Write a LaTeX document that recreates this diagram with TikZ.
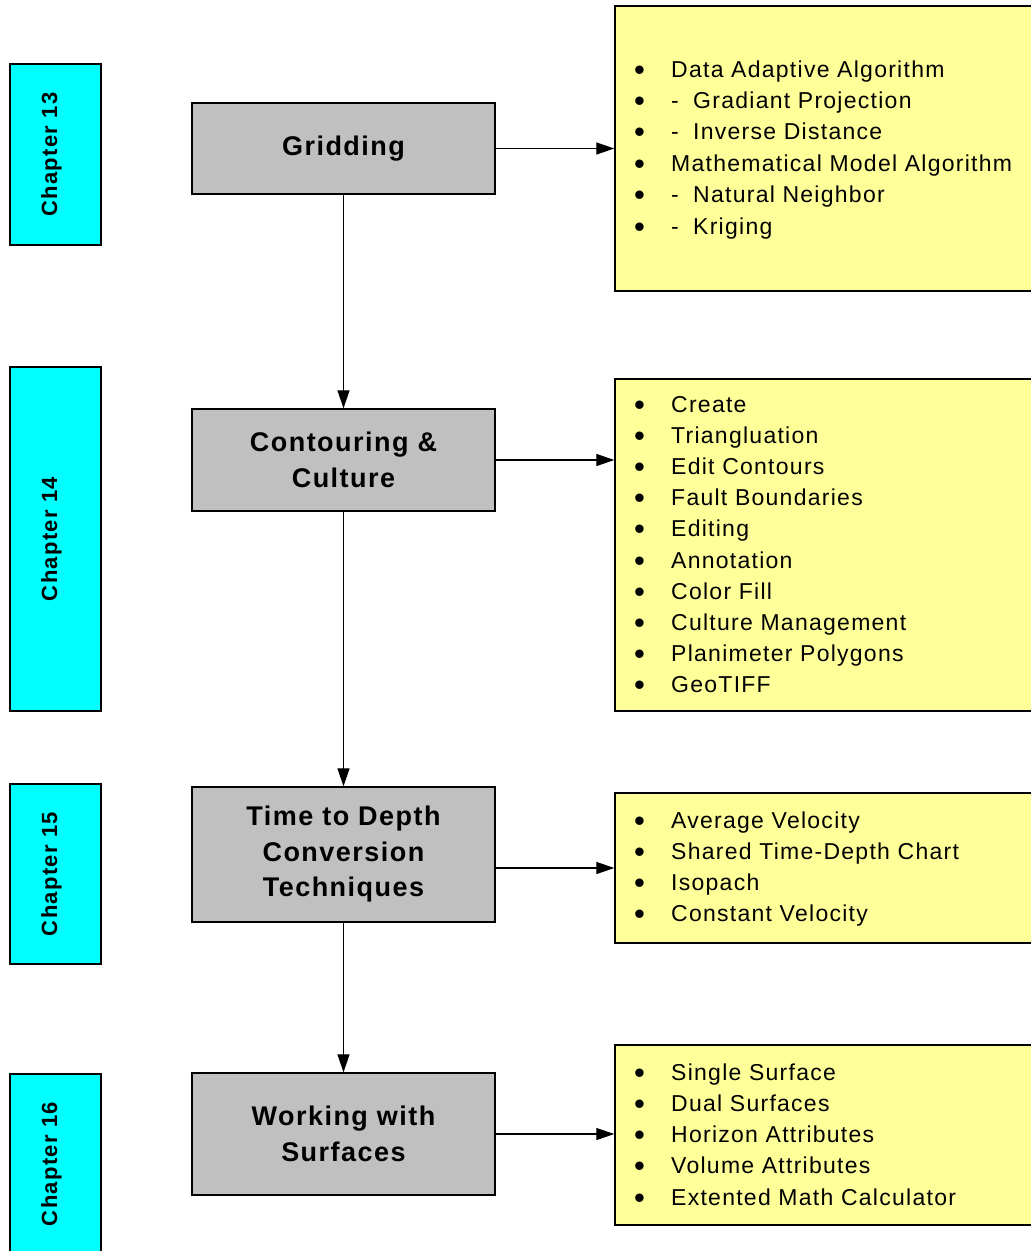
\documentclass[tikz,border=0pt]{standalone}
\usepackage{fontspec}
\setmainfont{Liberation Sans}[LetterSpace=5.5]
\newfontfamily\topicfont{Liberation Sans}[LetterSpace=5.5]
\newfontfamily\chapfont{Liberation Sans}[LetterSpace=6]
\usetikzlibrary{arrows.meta}
\definecolor{cyanbox}{HTML}{00FFFF}
\definecolor{greybox}{HTML}{C0C0C0}
\definecolor{yelbox}{HTML}{FFFF99}
\newcommand\bigdot{\raisebox{-3pt}{\fontsize{31}{31}\selectfont\textbullet}}
\newcommand\bl[1]{\makebox[37pt][l]{\bigdot}#1}
\newcommand\dl[1]{\makebox[37pt][l]{\bigdot}\makebox[22pt][l]{-}#1}
\begin{document}
\begin{tikzpicture}[x=1pt,y=-1pt,
  chap/.style={draw=black, fill=cyanbox, line width=1.4pt, rotate=90,
    minimum height=91pt, inner sep=0pt, text height=8pt, text depth=5pt,
    font=\chapfont\bfseries\fontsize{22}{26}\selectfont},
  topic/.style={draw=black, fill=greybox, line width=1.4pt, minimum width=303pt,
    inner sep=0pt, align=center, font=\topicfont\bfseries\fontsize{27}{35.5}\selectfont},
  listbox/.style={draw=black, fill=yelbox, line width=1.4pt, minimum width=430pt, inner sep=0pt},
  listline/.style={anchor=base west, inner sep=0pt, font=\fontsize{23}{26}\selectfont},
  flow/.style={line width=1.3pt, -{Triangle[length=18pt,width=12pt]}}]
\useasboundingbox (0,0) rectangle (1031,1251);
\clip (0,0) rectangle (1031,1251);

% chapter tabs
\node[chap, minimum width=181pt] (c1) at (55.5,154.5) {Chapter 13};
\node[chap, minimum width=344pt] (c2) at (55.5,539) {Chapter 14};
\node[chap, minimum width=180pt] (c3) at (55.5,874) {Chapter 15};
\node[chap, minimum width=180pt] (c4) at (55.5,1164) {Chapter 16};

% topic boxes
\node[topic, minimum height=91pt] (g1) at (343.5,148.5) {Gridding};
\node[topic, minimum height=102pt] (g2) at (343.5,460) {Contouring \&\\Culture};
\node[topic, minimum height=135pt] (g3) at (343.5,854.5) {Time to Depth\\Conversion\\Techniques};
\node[topic, minimum height=122pt] (g4) at (343.5,1134) {Working with\\Surfaces};

% list boxes
\node[listbox, minimum height=285pt] (y1) at (830,148.5) {};
\node[listbox, minimum height=332pt] (y2) at (830,545) {};
\node[listbox, minimum height=150pt] (y3) at (830,868) {};
\node[listbox, minimum height=180pt] (y4) at (830,1135) {};

% list texts
\foreach \t [count=\i from 0] in {\bl{Data Adaptive Algorithm},\dl{Gradiant Projection},\dl{Inverse Distance},\bl{Mathematical Model Algorithm},\dl{Natural Neighbor},\dl{Kriging}}
  \node[listline] (a\i) at (634,{77+31.4*\i}) {\t};
\foreach \t [count=\i from 0] in {Create,Triangluation,Edit Contours,Fault Boundaries,Editing,Annotation,Color Fill,Culture Management,Planimeter Polygons,GeoTIFF}
  \node[listline] (b\i) at (634,{412+31.2*\i}) {\bl{\t}};
\foreach \t [count=\i from 0] in {Average Velocity,Shared Time-Depth Chart,Isopach,Constant Velocity}
  \node[listline] (d\i) at (634,{828+31*\i}) {\bl{\t}};
\foreach \t [count=\i from 0] in {Single Surface,Dual Surfaces,Horizon Attributes,Volume Attributes,Extented Math Calculator}
  \node[listline] (e\i) at (634,{1080+31.25*\i}) {\bl{\t}};

% connectors
\draw[flow] (g1.south) -- (g2.north);
\draw[flow] (g2.south) -- (g3.north);
\draw[flow] (g3.south) -- (g4.north);
\draw[flow] (g1.east) -- (g1.east -| y1.west);
\draw[flow] (g2.east) -- (g2.east -| y2.west);
\draw[flow] (y3.west -| g3.east) -- (y3.west);
\draw[flow] (g4.east) -- (g4.east -| y4.west);
\end{tikzpicture}
\end{document}
